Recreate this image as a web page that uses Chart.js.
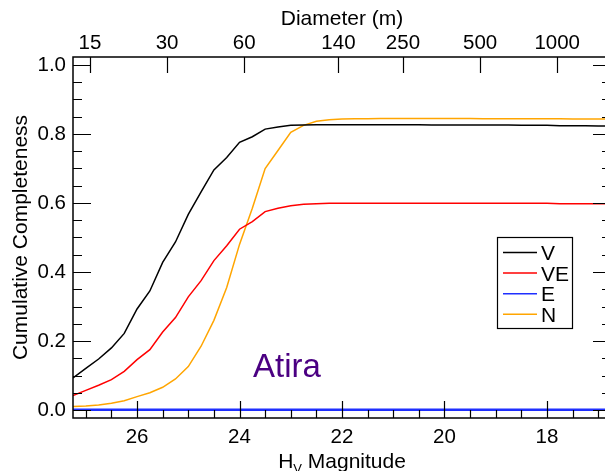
<!DOCTYPE html>
<html>
<head>
<meta charset="utf-8">
<script src="https://cdn.jsdelivr.net/npm/chart.js@4/dist/chart.umd.min.js"></script>
<style>
html, body { margin: 0; padding: 0; background: #fff; overflow: hidden; }
#wrap { width: 605px; height: 471px; overflow: hidden; }
</style>
</head>
<body>
<div id="wrap"><canvas id="chart" width="620" height="471"></canvas></div>
<script>
// H magnitude grid (bin centres)
var magnitudes = [27.25, 27.0, 26.75, 26.5, 26.25, 26.0, 25.75, 25.5, 25.25, 25.0,
  24.75, 24.5, 24.25, 24.0, 23.75, 23.5, 23.25, 23.0, 22.75, 22.5,
  22.25, 22.0, 21.75, 21.5, 21.25, 21.0, 20.75, 20.5, 20.25, 20.0,
  19.75, 19.5, 19.25, 19.0, 18.75, 18.5, 18.25, 18.0, 17.75, 17.5,
  17.25, 17.0, 16.75]

var completenessV = [0.093, 0.121, 0.148, 0.180, 0.222, 0.293, 0.345, 0.428, 0.487, 0.567,
  0.632, 0.696, 0.732, 0.776, 0.792, 0.814, 0.820, 0.825, 0.826, 0.827,
  0.827, 0.827, 0.827, 0.827, 0.827, 0.827, 0.827, 0.827, 0.826, 0.826,
  0.826, 0.826, 0.826, 0.826, 0.826, 0.825, 0.825, 0.825, 0.824, 0.824,
  0.824, 0.823, 0.823]

var completenessVE = [0.042, 0.057, 0.072, 0.088, 0.112, 0.146, 0.175, 0.226, 0.268, 0.328,
  0.375, 0.433, 0.476, 0.524, 0.546, 0.575, 0.585, 0.592, 0.596, 0.598,
  0.599, 0.599, 0.599, 0.599, 0.599, 0.599, 0.599, 0.599, 0.599, 0.599,
  0.599, 0.599, 0.599, 0.599, 0.599, 0.599, 0.599, 0.599, 0.598, 0.598,
  0.598, 0.598, 0.598]

var completenessE = [0.001, 0.001, 0.001, 0.001, 0.001, 0.001, 0.001, 0.001, 0.001, 0.001,
  0.001, 0.001, 0.001, 0.001, 0.001, 0.001, 0.001, 0.001, 0.001, 0.001,
  0.001, 0.001, 0.001, 0.001, 0.001, 0.001, 0.001, 0.001, 0.001, 0.001,
  0.001, 0.001, 0.001, 0.001, 0.001, 0.001, 0.001, 0.001, 0.001, 0.001,
  0.001, 0.001, 0.001]

var completenessN = [0.010, 0.012, 0.015, 0.020, 0.027, 0.039, 0.050, 0.066, 0.090, 0.126,
  0.185, 0.260, 0.355, 0.480, 0.585, 0.700, 0.752, 0.805, 0.825, 0.837,
  0.841, 0.843, 0.844, 0.844, 0.845, 0.845, 0.845, 0.845, 0.845, 0.845,
  0.845, 0.845, 0.844, 0.844, 0.844, 0.844, 0.844, 0.844, 0.844, 0.843,
  0.843, 0.843, 0.843]

var seriesLabels = ['V', 'VE', 'E', 'N']
var seriesColors = ['#000000', '#ff0000', '#1f2fff', '#ffa500']
var magnitudeTicks = [26, 24, 22, 20, 18]
var completenessTicks = [0.0, 0.2, 0.4, 0.6, 0.8, 1.0]
var diameterTicks = [15, 30, 60, 140, 250, 500, 1000]
var albedo = 0.134

var FONT = "'Liberation Sans', Arial, sans-serif"

function diameterToH(d) {
  return 5 * Math.log10(1329000 / (Math.sqrt(albedo) * d))
}

function points(vals) {
  return magnitudes.map(function(h, i) { return {x: h, y: vals[i]} })
}

var frame = {
  id: 'frame',
  afterDatasetsDraw: function(chart) {
    var ctx = chart.ctx
    var a = chart.chartArea
    var xs = chart.scales.x
    var ys = chart.scales.y
    ctx.save()
    ctx.strokeStyle = '#000'
    ctx.lineWidth = 1.5
    ctx.strokeRect(a.left, a.top, a.right - a.left, a.bottom - a.top)

    ctx.lineWidth = 1.2
    ctx.beginPath()
    // y ticks, left and right, every 0.05
    for (var i = 0; i <= 20; i++) {
      var py = Math.round(ys.getPixelForValue(i * 0.05)) + 0.5
      var len = i % 4 === 0 ? 18 : 9
      ctx.moveTo(a.left, py); ctx.lineTo(a.left + len, py)
      ctx.moveTo(a.right, py); ctx.lineTo(a.right - len, py)
    }
    // bottom ticks every 0.5 mag
    for (var h = 17; h <= 27; h += 0.5) {
      var px = Math.round(xs.getPixelForValue(h)) + 0.5
      var l = (h % 2 === 0) ? 17 : 8
      ctx.moveTo(px, a.bottom); ctx.lineTo(px, a.bottom - l)
    }
    // top diameter ticks
    diameterTicks.forEach(function(d) {
      var px = Math.round(xs.getPixelForValue(diameterToH(d))) + 0.5
      ctx.moveTo(px, a.top); ctx.lineTo(px, a.top + 16)
    })
    ctx.stroke()

    // titles
    ctx.fillStyle = '#000'
    ctx.font = '21px ' + FONT
    ctx.textAlign = 'center'
    ctx.textBaseline = 'alphabetic'
    var cx = (a.left + a.right) / 2
    ctx.fillText('Diameter (m)', cx, 25)

    var w1 = ctx.measureText('H').width
    var w3 = ctx.measureText(' Magnitude').width
    ctx.font = '13px ' + FONT
    var w2 = ctx.measureText('V').width
    var sx = cx - (w1 + w2 + w3) / 2
    ctx.textAlign = 'left'
    ctx.font = '21px ' + FONT
    ctx.fillText('H', sx, 468)
    ctx.font = '13px ' + FONT
    ctx.fillText('V', sx + w1, 473)
    ctx.font = '21px ' + FONT
    ctx.fillText(' Magnitude', sx + w1 + w2, 468)

    ctx.save()
    ctx.translate(27, (a.top + a.bottom) / 2)
    ctx.rotate(-Math.PI / 2)
    ctx.textAlign = 'center'
    ctx.fillText('Cumulative Completeness', 0, 0)
    ctx.restore()

    // label
    ctx.fillStyle = '#4b0082'
    ctx.font = '33px ' + FONT
    ctx.textAlign = 'left'
    ctx.fillText('Atira', 253, 377)

    // legend
    ctx.strokeStyle = '#000'
    ctx.lineWidth = 1.2
    ctx.strokeRect(497.5, 237.5, 75, 91)
    ctx.font = '21px ' + FONT
    ctx.textBaseline = 'middle'
    chart.data.datasets.forEach(function(ds, k) {
      var ly = 252.5 + k * 20.6
      ctx.strokeStyle = ds.borderColor
      ctx.lineWidth = 1.5
      ctx.beginPath()
      ctx.moveTo(503, ly); ctx.lineTo(537, ly)
      ctx.stroke()
      ctx.fillStyle = '#000'
      ctx.fillText(ds.label, 541, ly + 2)
    })
    ctx.restore()
  },
}

var allSeries = [completenessV, completenessVE, completenessE, completenessN]
var datasets = allSeries.map(function(vals, k) {
  return {
    label: seriesLabels[k],
    data: points(vals),
    borderColor: seriesColors[k],
    borderWidth: k === 2 ? 2.5 : 1.5,
    pointRadius: 0,
    tension: 0,
    fill: false,
  }
})

var tickFont = {family: FONT, size: 20.5}

new Chart(document.getElementById('chart').getContext('2d'), {
  type: 'line',
  data: {datasets: datasets},
  plugins: [frame],
  options: {
    responsive: false,
    animation: false,
    layout: {padding: {left: 0, right: 9, top: 0, bottom: 0}},
    plugins: {legend: {display: false}, tooltip: {enabled: false}},
    scales: {
      x: {
        type: 'linear', position: 'bottom', reverse: true, min: 16.75, max: 27.25,
        grid: {display: false, drawTicks: false}, border: {display: false},
        ticks: {font: tickFont, color: '#000', padding: 7, maxRotation: 0, autoSkip: false,
          callback: function(v) { return String(v) }},
        afterBuildTicks: function(s) { s.ticks = magnitudeTicks.map(function(v) { return {value: v} }) },
        afterFit: function(s) { s.height = 53 },
      },
      top: {
        type: 'linear', position: 'top', reverse: true, min: 16.75, max: 27.25,
        grid: {display: false, drawTicks: false}, border: {display: false},
        ticks: {font: tickFont, color: '#000', padding: 1, maxRotation: 0, autoSkip: false,
          callback: function(v, i) { return String(diameterTicks[i]) }},
        afterBuildTicks: function(s) {
          s.ticks = diameterTicks.map(function(d) { return {value: diameterToH(d)} })
        },
        afterFit: function(s) { s.height = 57 },
      },
      y: {
        type: 'linear', min: -0.023, max: 1.023,
        grid: {display: false, drawTicks: false}, border: {display: false},
        ticks: {font: tickFont, color: '#000', padding: 7,
          callback: function(v) { return v.toFixed(1) }},
        afterBuildTicks: function(s) { s.ticks = completenessTicks.map(function(v) { return {value: v} }) },
        afterFit: function(s) { s.width = 73 },
      },
    },
  },
})
</script>
</body>
</html>
